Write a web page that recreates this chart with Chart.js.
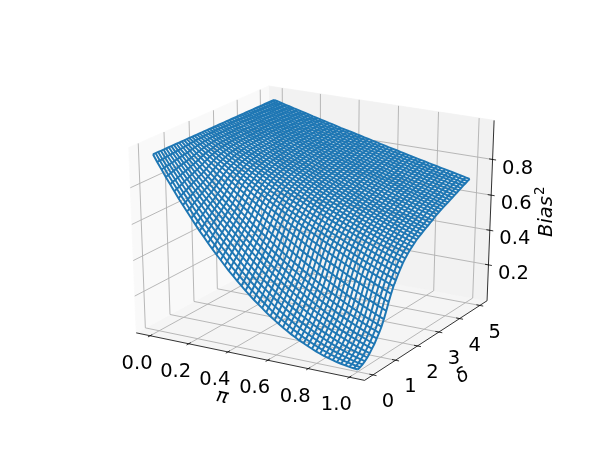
<!DOCTYPE html>
<html lang="en">
<head>
<meta charset="UTF-8">
<title>Bias surface</title>
<script src="https://cdn.jsdelivr.net/npm/chart.js"></script>
<style>
  body { margin: 0; background: #fff; }
  canvas { display: block; }
</style>
</head>
<body>
<canvas id="surface" width="600" height="459"></canvas>
<script>
// values
const piTicks = [0, 0.2, 0.4, 0.6, 0.8, 1];
const piTickLabels = ['0.0', '0.2', '0.4', '0.6', '0.8', '1.0'];
const deltaTicks = [0, 1, 2, 3, 4, 5];
const deltaTickLabels = ['0', '1', '2', '3', '4', '5'];
const biasTicks = [0.2, 0.4, 0.6, 0.8];
const biasTickLabels = ['0.2', '0.4', '0.6', '0.8'];

const piValues = [0,.020,.041,.061,.082,.102,.122,.143,.163,.184,.204,.224,.245,.265,.286,.306,.327,.347,.367,.388,.408,.429,.449,.469,.490,.510,.531,.551,.571,.592,.612,.633,.653,.673,.694,.714,.735,.755,.776,.796,.816,.837,.857,.878,.898,.918,.939,.959,.980,1];
const deltaValues = [0,.102,.204,.306,.408,.510,.612,.714,.816,.918,1.020,1.122,1.224,1.327,1.429,1.531,1.633,1.735,1.837,1.939,2.041,2.143,2.245,2.347,2.449,2.551,2.653,2.755,2.857,2.959,3.061,3.163,3.265,3.367,3.469,3.571,3.673,3.776,3.878,3.980,4.082,4.184,4.286,4.388,4.490,4.592,4.694,4.796,4.898,5];

// Bias^2 in thousandths, one row per delta value, one column per pi value
const biasRows = [
[970,933,896,860,825,790,757,724,692,660,629,599,570,541,513,486,460,434,409,385,362,339,317,296,275,256,237,218,201,184,168,152,138,124,111,98,87,76,66,56,47,39,32,26,20,15,11,7,4,2],
[970,934,899,864,830,797,764,732,701,670,640,611,583,555,528,501,476,450,426,403,379,357,335,314,294,274,255,237,219,202,186,171,156,141,128,115,103,92,80,70,61,52,44,37,30,24,19,14,10,7],
[970,935,902,868,836,803,772,741,711,681,653,624,597,569,543,517,492,468,444,420,398,376,354,334,313,294,275,257,239,222,206,190,175,160,146,133,121,109,97,86,76,67,58,50,42,35,29,23,18,14],
[970,937,904,873,841,810,780,751,721,693,665,638,611,585,559,534,510,486,462,440,417,396,375,354,334,315,296,278,261,244,227,211,196,181,167,154,141,128,116,105,94,84,75,66,57,49,42,35,29,24],
[970,938,907,877,846,817,788,759,731,704,677,650,624,599,574,550,526,503,480,458,436,415,394,374,355,336,317,299,282,265,248,232,217,202,188,174,160,148,135,124,113,102,92,82,73,64,57,49,43,36],
[970,940,910,881,852,824,796,769,742,715,690,664,639,615,591,567,544,522,500,478,457,436,416,396,377,358,340,322,305,288,272,256,241,226,211,197,184,171,158,146,135,124,113,103,93,84,75,67,59,52],
[970,941,913,885,857,830,804,777,752,726,702,677,653,629,606,584,561,539,518,497,476,456,437,417,398,380,362,345,328,311,295,279,264,249,234,220,207,194,181,168,157,145,134,124,113,104,94,86,77,69],
[970,942,915,889,862,836,811,785,761,736,712,689,666,643,620,599,577,556,535,514,494,475,456,437,418,400,383,366,349,332,316,301,285,271,256,242,228,215,202,190,178,166,155,144,133,123,114,104,95,87],
[970,944,918,893,868,843,819,795,771,748,725,702,680,658,637,616,595,575,555,535,515,496,478,460,442,424,407,390,374,357,342,326,311,296,282,268,254,241,228,216,203,192,180,169,158,148,138,128,118,110],
[970,945,921,897,873,849,826,803,781,759,737,715,694,673,652,632,612,593,573,554,536,517,499,482,464,447,430,414,398,382,367,351,337,322,308,294,280,267,254,242,229,217,206,194,183,173,162,152,143,133],
[970,947,923,900,878,856,834,812,791,770,749,728,708,688,668,649,630,611,592,574,556,538,521,504,487,470,454,438,422,407,392,377,362,348,334,321,307,294,281,269,256,244,233,221,210,199,189,179,169,159],
[970,948,927,905,884,864,843,823,803,783,763,744,725,706,688,669,651,633,616,598,581,565,548,532,515,500,484,469,453,439,424,410,396,382,368,355,341,329,316,304,291,280,268,257,245,235,224,213,203,194],
[970,950,930,910,891,872,853,834,815,797,778,760,743,725,708,690,674,657,640,624,608,592,576,561,545,530,516,501,486,472,458,445,431,418,404,391,379,366,354,342,330,318,307,295,284,274,263,252,242,232],
[970,952,933,915,897,879,862,844,827,810,793,777,760,744,727,711,696,680,665,649,634,619,605,590,575,561,547,534,520,506,493,480,467,454,441,429,417,405,393,381,369,358,347,336,325,314,304,294,283,274],
[970,953,936,919,903,886,870,854,838,822,806,790,775,760,745,730,715,700,685,671,657,643,629,615,602,588,575,562,549,536,523,511,498,486,474,462,450,439,427,416,405,394,383,372,362,351,341,331,321,311],
[970,954,938,923,907,892,877,862,847,832,817,802,788,774,760,745,731,718,704,690,677,664,651,638,625,612,599,587,575,562,550,538,526,515,503,492,480,469,458,447,437,426,415,405,395,385,375,365,355,346],
[970,955,940,925,911,896,882,867,853,839,825,811,797,784,770,757,744,731,718,705,692,679,667,654,642,630,618,606,594,582,570,559,547,536,525,514,503,492,482,471,461,450,440,430,420,410,400,391,381,372],
[970,956,942,928,914,900,887,873,859,846,833,820,807,794,781,768,756,743,731,718,706,694,682,670,659,647,635,624,613,601,590,579,568,557,547,536,525,515,505,494,484,474,464,455,445,435,426,416,407,398],
[970,957,943,930,917,904,891,878,865,853,840,827,815,803,791,779,766,755,743,731,719,708,696,685,674,662,651,640,629,619,608,597,587,576,566,556,546,535,525,516,506,496,487,477,468,458,449,440,431,422],
[970,957,945,932,920,907,895,883,870,858,846,835,823,811,799,788,776,765,754,742,731,720,709,698,688,677,666,656,645,635,625,614,604,594,584,574,565,555,545,536,526,517,508,498,489,480,471,462,454,445],
[970,958,946,934,922,910,898,886,874,863,851,840,829,817,806,795,784,773,762,751,740,730,719,709,698,688,677,667,657,647,637,627,617,608,598,588,579,569,560,551,542,532,523,514,506,497,488,479,471,462],
[970,958,947,935,923,912,901,889,878,867,856,845,834,823,812,801,791,780,770,759,749,738,728,718,708,698,688,678,668,658,649,639,630,620,611,602,592,583,574,565,556,547,538,530,521,512,504,496,487,479],
[970,959,947,936,925,914,903,892,881,870,860,849,838,828,817,807,796,786,776,766,756,746,736,726,716,706,697,687,678,668,659,649,640,631,622,613,604,595,586,577,568,560,551,542,534,526,517,509,501,493],
[970,959,948,937,926,916,905,894,884,873,863,853,842,832,822,812,802,792,782,772,762,753,743,733,724,714,705,696,686,677,668,659,650,641,632,623,614,605,597,588,580,571,563,554,546,538,530,522,514,506],
[970,959,949,938,928,918,907,897,887,877,866,856,846,836,827,817,807,797,788,778,769,759,750,741,731,722,713,704,695,686,677,668,659,650,642,633,624,616,608,599,591,582,574,566,558,550,542,534,526,518],
[970,960,949,939,929,919,909,899,889,879,870,860,850,840,831,821,812,802,793,784,775,765,756,747,738,729,720,711,702,694,685,676,668,659,651,642,634,625,617,609,601,593,585,577,569,561,553,545,538,530],
[970,960,950,940,930,920,910,901,891,881,872,862,853,843,834,825,815,806,797,788,779,770,761,752,743,734,725,717,708,699,691,682,674,666,657,649,641,633,624,616,608,600,593,585,577,569,561,554,546,539],
[970,960,950,941,931,921,912,902,893,883,874,865,855,846,837,828,819,810,801,792,783,774,765,757,748,739,731,722,714,705,697,689,680,672,664,656,648,640,632,624,616,608,600,593,585,577,570,562,555,547],
[970,960,951,941,932,923,913,904,895,885,876,867,858,849,840,831,822,814,805,796,787,779,770,762,753,745,736,728,720,711,703,695,687,679,671,663,655,647,639,631,624,616,608,601,593,586,578,571,564,556],
[970,961,951,942,933,924,914,905,896,887,878,869,860,852,843,834,825,817,808,800,791,782,774,766,757,749,741,733,724,716,708,700,692,684,676,669,661,653,645,638,630,622,615,608,600,593,585,578,571,564],
[970,961,952,942,933,924,915,906,897,889,880,871,863,854,846,837,829,820,812,803,795,786,778,770,762,754,745,737,729,721,713,706,698,690,682,675,667,659,652,644,636,629,622,614,607,600,593,585,578,571],
[970,961,952,943,935,926,917,908,900,891,882,874,866,857,849,841,832,824,816,807,800,791,783,775,768,760,752,744,736,728,720,712,705,697,690,682,675,667,660,652,645,638,630,623,616,609,602,595,588,581],
[970,961,953,944,935,927,918,910,901,893,884,876,867,859,851,843,835,827,819,811,803,795,787,779,771,763,755,747,740,732,725,717,709,702,695,687,680,673,665,658,652,644,637,630,623,616,609,602,595,588],
[970,961,953,945,936,928,920,911,903,895,887,878,870,862,854,846,838,830,822,815,807,799,791,784,776,768,761,753,746,738,731,724,716,709,702,695,688,680,673,666,659,652,645,639,632,625,618,612,605,598],
[970,962,954,945,937,929,921,913,905,897,889,881,873,865,857,849,841,834,826,818,811,803,796,788,781,773,766,758,751,744,737,729,722,715,708,701,694,687,680,673,665,659,652,645,639,632,625,619,612,605],
[970,962,954,946,938,930,922,914,906,899,891,883,875,868,860,852,845,837,830,822,814,807,800,792,785,778,771,763,756,749,742,735,728,721,714,707,700,693,687,680,672,666,659,653,646,639,633,626,620,613],
[970,962,954,947,939,931,923,915,908,900,892,885,877,869,862,855,847,840,832,825,817,810,803,796,789,781,774,767,760,753,746,740,733,726,719,712,705,699,692,685,678,672,665,659,652,646,639,632,626,619],
[970,962,954,947,939,931,924,916,909,901,894,886,879,871,864,857,849,842,835,827,820,813,806,799,792,785,778,771,764,757,750,744,737,730,724,717,710,704,697,690,683,677,671,664,658,652,645,639,633,626],
[970,962,955,947,940,932,925,917,910,903,895,888,881,873,866,859,852,844,837,830,823,816,809,802,795,788,781,774,768,761,754,747,741,734,727,721,714,708,701,695,688,682,676,669,663,657,651,644,638,632],
[970,963,955,948,940,933,926,918,911,904,897,889,882,875,868,861,854,847,840,833,826,819,812,806,799,792,785,779,772,765,759,752,745,739,733,726,720,713,707,700,694,688,681,675,669,663,657,650,644,638],
[970,963,955,948,941,934,927,919,912,905,898,891,884,877,870,863,856,849,842,836,829,822,815,809,802,796,789,782,776,769,763,756,750,744,737,731,725,719,712,706,699,693,687,681,675,669,663,657,651,645],
[970,963,956,949,942,934,927,920,913,906,900,893,886,879,872,865,858,852,845,838,832,825,819,812,806,799,793,786,780,773,767,761,754,748,742,736,729,723,717,711,705,699,693,687,681,675,669,663,657,651],
[970,963,956,949,942,935,928,921,915,908,901,894,888,881,874,868,861,855,848,842,835,829,822,816,810,803,797,791,784,778,772,766,760,754,748,741,735,729,723,717,711,705,699,693,687,682,676,670,664,658],
[970,963,956,950,943,936,929,923,916,909,903,896,890,883,877,870,864,857,851,845,838,832,826,819,813,807,801,795,789,782,776,770,764,758,752,747,741,735,729,723,716,711,705,699,694,688,682,677,671,664],
[970,963,957,950,943,937,930,924,917,911,904,898,892,885,879,873,866,860,854,848,841,835,829,823,817,811,805,799,793,786,780,774,769,763,757,751,745,739,734,728,722,716,711,705,699,694,688,682,677,671],
[970,964,957,951,944,938,931,925,919,912,906,900,894,888,881,875,869,863,857,850,844,838,832,826,820,814,808,802,796,790,784,779,773,767,761,756,750,744,739,733,727,722,716,711,705,700,694,689,683,677],
[970,964,957,951,945,938,932,926,920,913,908,901,895,889,883,877,871,865,859,853,847,841,835,829,823,818,812,806,800,795,789,783,777,772,766,761,755,749,744,738,733,727,722,716,711,706,700,695,689,684],
[970,964,958,951,945,939,933,927,921,914,909,903,897,891,885,879,873,867,861,855,850,844,838,832,827,821,815,810,804,798,792,787,781,776,770,765,759,754,748,743,737,732,726,721,716,710,705,700,694,689],
[970,964,958,952,946,940,934,928,922,916,910,904,898,893,887,881,875,870,864,858,852,847,841,836,830,824,819,813,808,802,797,791,786,780,775,769,764,759,753,748,742,737,732,727,721,716,711,706,701,696],
[970,964,958,952,946,940,935,929,923,917,911,906,900,894,888,883,877,871,866,860,855,849,844,838,833,827,822,816,811,805,800,795,789,784,779,773,768,763,758,752,747,742,737,732,727,722,717,712,706,701]
];

// view fitted to the picture
const elev = 24 * Math.PI / 180;
const azim = -60 * Math.PI / 180;
const dist = 10;
const centerX = 314.5, centerY = 227, scaleX = 262, scaleY = 200;
const piRange = [-0.0729, 1.0729];
const deltaRange = [-0.3646, 5.3646];
const biasRange = [-0.0105, 1.0155];

const n = [Math.cos(elev) * Math.cos(azim), Math.cos(elev) * Math.sin(azim), Math.sin(elev)];
const u = [-Math.sin(azim), Math.cos(azim), 0];
const v = [-Math.sin(elev) * Math.cos(azim), -Math.sin(elev) * Math.sin(azim), Math.cos(elev)];

function dot(a, b) { return a[0] * b[0] + a[1] * b[1] + a[2] * b[2]; }

function toBox(val, range) { return (val - range[0]) / (range[1] - range[0]); }

// box coordinates 0..1 -> flat chart coordinates
function projectBox(a, b, c) {
  const q = [a - 0.5, b - 0.5, c - 0.5];
  const f = dist / (dist - dot(q, n));
  return { x: centerX + scaleX * dot(q, u) * f, y: centerY - scaleY * dot(q, v) * f };
}

function project(pi, delta, bias) {
  return projectBox(toBox(pi, piRange), toBox(delta, deltaRange), toBox(bias, biasRange));
}

function lineSet(points, color, width, order, fillColor) {
  return {
    data: points,
    showLine: true,
    pointRadius: 0,
    borderColor: color,
    borderWidth: width,
    backgroundColor: fillColor || color,
    fill: fillColor ? 'shape' : false,
    tension: 0,
    clip: false,
    order: order
  };
}

const datasets = [];

// wireframe
const wireColor = '#1f77b4';
deltaValues.forEach((delta, j) => {
  datasets.push(lineSet(piValues.map((pi, i) => project(pi, delta, biasRows[j][i] / 1000)), wireColor, 1.95, 1));
});
piValues.forEach((pi, i) => {
  datasets.push(lineSet(deltaValues.map((delta, j) => project(pi, delta, biasRows[j][i] / 1000)), wireColor, 1.95, 1));
});

// panes
const A = projectBox(0, 0, 0), B = projectBox(1, 0, 0), C = projectBox(1, 1, 0), D = projectBox(0, 1, 0);
const E = projectBox(0, 0, 1), F = projectBox(0, 1, 1), G = projectBox(1, 1, 1);
datasets.push(lineSet([A, D, F, E, A], '#f9f9f9', 0.75, 7, '#f9f9f9'));
datasets.push(lineSet([D, C, G, F, D], '#f2f2f2', 0.75, 7, '#f2f2f2'));
datasets.push(lineSet([A, B, C, D, A], '#f5f5f5', 0.75, 7, '#f5f5f5'));

// grid
const gridColor = '#b0b0b0';
piTicks.forEach(t => {
  const a = toBox(t, piRange);
  datasets.push(lineSet([projectBox(a, 0, 0), projectBox(a, 1, 0), projectBox(a, 1, 1)], gridColor, 0.9, 5));
});
deltaTicks.forEach(t => {
  const b = toBox(t, deltaRange);
  datasets.push(lineSet([projectBox(1, b, 0), projectBox(0, b, 0), projectBox(0, b, 1)], gridColor, 0.9, 5));
});
biasTicks.forEach(t => {
  const c = toBox(t, biasRange);
  datasets.push(lineSet([projectBox(0, 0, c), projectBox(0, 1, c), projectBox(1, 1, c)], gridColor, 0.9, 5));
});

// axis lines and tick marks
datasets.push(lineSet([A, B, C, G], '#000', 0.8, 3));
const tickLen = 0.015;
piTicks.forEach(t => {
  const a = toBox(t, piRange);
  datasets.push(lineSet([projectBox(a, tickLen, 0), projectBox(a, -tickLen, 0)], '#000', 0.8, 3));
});
deltaTicks.forEach(t => {
  const b = toBox(t, deltaRange);
  datasets.push(lineSet([projectBox(1 - tickLen, b, 0), projectBox(1 + tickLen, b, 0)], '#000', 0.8, 3));
});
biasTicks.forEach(t => {
  const c = toBox(t, biasRange);
  datasets.push(lineSet([projectBox(1 - tickLen, 1, c), projectBox(1 + tickLen, 1, c)], '#000', 0.8, 3));
});

const axisText = {
  id: 'axisText',
  afterDatasetsDraw(chart) {
    const ctx = chart.ctx;
    const sx = chart.scales.x, sy = chart.scales.y;
    const font = '19.5px "DejaVu Sans"';
    const italic = 'italic 19.5px "DejaVu Sans"';

    function tickText(str, pos, dx, dy) {
      ctx.fillText(str, sx.getPixelForValue(pos.x) + dx, sy.getPixelForValue(pos.y) + dy);
    }

    function turned(str, x, y, angle) {
      ctx.save();
      ctx.translate(x, y);
      ctx.rotate(angle);
      ctx.fillText(str, 0, 0);
      ctx.restore();
    }

    ctx.save();
    ctx.fillStyle = '#000';
    ctx.font = font;
    ctx.textAlign = 'center';
    ctx.textBaseline = 'middle';
    piTicks.forEach((t, i) => {
      tickText(piTickLabels[i], projectBox(toBox(t, piRange), 0, 0), -13, 28);
    });
    deltaTicks.forEach((t, i) => {
      tickText(deltaTickLabels[i], projectBox(1, toBox(t, deltaRange), 0), 15, 27);
    });
    biasTicks.forEach((t, i) => {
      tickText(biasTickLabels[i], projectBox(1, 1, toBox(t, biasRange)), 25, 9);
    });

    ctx.font = italic;
    turned('π', 222, 397, 12 * Math.PI / 180);
    turned('δ', 463, 376, -32 * Math.PI / 180);

    // rotated label with its superscript
    ctx.save();
    ctx.translate(552, 237);
    ctx.rotate(-Math.PI / 2);
    ctx.textAlign = 'left';
    ctx.textBaseline = 'alphabetic';
    ctx.fillText('Bias', 0, 0);
    const w = ctx.measureText('Bias').width;
    ctx.font = '13.5px "DejaVu Sans"';
    ctx.fillText('2', w + 1, -8);
    ctx.restore();
    ctx.restore();
  }
};

new Chart(document.getElementById('surface'), {
  type: 'scatter',
  data: { datasets: datasets },
  options: {
    responsive: false,
    animation: false,
    parsing: false,
    normalized: false,
    events: [],
    layout: { padding: 0 },
    plugins: { legend: { display: false }, tooltip: { enabled: false } },
    scales: {
      x: { type: 'linear', display: false, min: 0, max: 600 },
      y: { type: 'linear', display: false, min: 0, max: 459, reverse: true }
    }
  },
  plugins: [axisText]
});
</script>
</body>
</html>
